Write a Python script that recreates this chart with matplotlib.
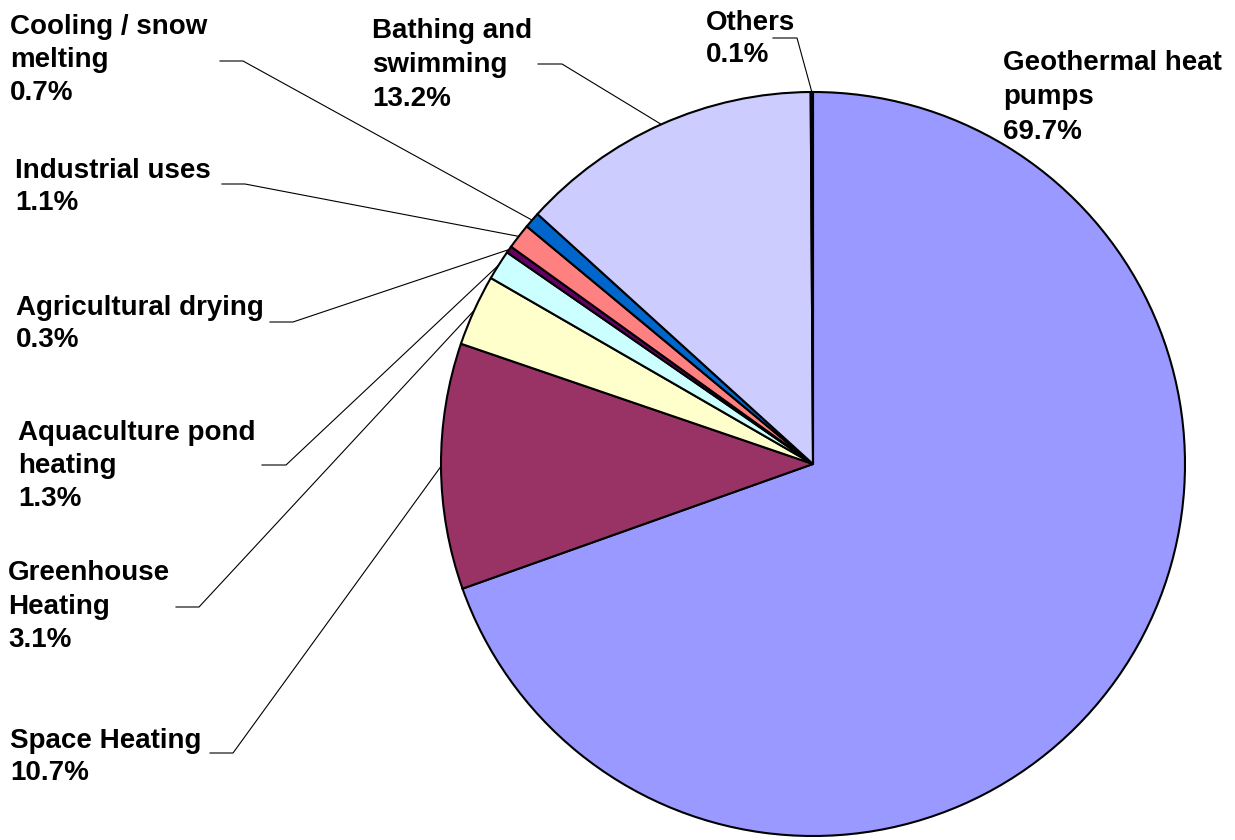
import numpy as np
import matplotlib
matplotlib.use("Agg")
import matplotlib.pyplot as plt

plt.rcParams["font.family"] = ["Liberation Sans", "DejaVu Sans"]

# data
categories = ["Geothermal heat pumps", "Space Heating", "Greenhouse Heating",
              "Aquaculture pond heating", "Agricultural drying", "Industrial uses",
              "Cooling / snow melting", "Bathing and swimming", "Others"]
shares = [69.7, 10.7, 3.1, 1.3, 0.3, 1.1, 0.7, 13.2, 0.1]
label_text = ["Geothermal heat\npumps", "Space Heating", "Greenhouse\nHeating",
              "Aquaculture pond\nheating", "Agricultural drying", "Industrial uses",
              "Cooling / snow\nmelting", "Bathing and\nswimming", "Others"]
colors = ["#9999FF", "#993366", "#FFFFCC", "#CCFFFF", "#660066",
          "#FF8080", "#0066CC", "#CCCCFF", "#000080"]

# layout (pixel coords, y measured from top)
W, H = 1235, 840
CX, CY, R = 813, 464, 372
# text top-left position
text_pos = [(1003, 50), (10, 728), (8, 560), (18, 420), (16, 295),
            (15, 158), (10, 14), (372, 18), (706, 10)]
line_sp = [1.42, 1.3, 1.38, 1.36, 1.3, 1.3, 1.36, 1.4, 1.3]
# horizontal part of leader: (y, x_start, x_end); None = no leader
leader = [None, (753, 210, 233), (607, 176, 199), (465, 262, 286),
          (322, 270, 293), (184, 222, 245), (61, 220, 243), (64, 538, 562),
          (38, 773, 797)]

fig = plt.figure(figsize=(W / 100, H / 100), dpi=100)
ax = fig.add_axes([0, 0, 1, 1])

wedges, _ = ax.pie(shares, colors=colors, startangle=90, counterclock=False,
                   center=(CX, H - CY), radius=R, normalize=True,
                   wedgeprops=dict(edgecolor="black", linewidth=1.5))
ax.set_xlim(0, W)
ax.set_ylim(0, H)
ax.set_aspect("equal")
ax.axis("off")

for i, w in enumerate(wedges):
    tx, ty = text_pos[i]
    ax.text(tx, H - ty, f"{label_text[i]}\n{shares[i]}%", ha="left", va="top",
            fontsize=20, fontweight="bold", linespacing=line_sp[i], color="black")
    if leader[i] is not None:
        ly, x0, x1 = leader[i]
        mid = np.deg2rad((w.theta1 + w.theta2) / 2)
        ex = CX + R * np.cos(mid)
        ey = (H - CY) + R * np.sin(mid)
        ax.plot([x0, x1, ex], [H - ly, H - ly, ey], color="black", lw=0.8)

fig.savefig("out.png", dpi=100, facecolor="white")
